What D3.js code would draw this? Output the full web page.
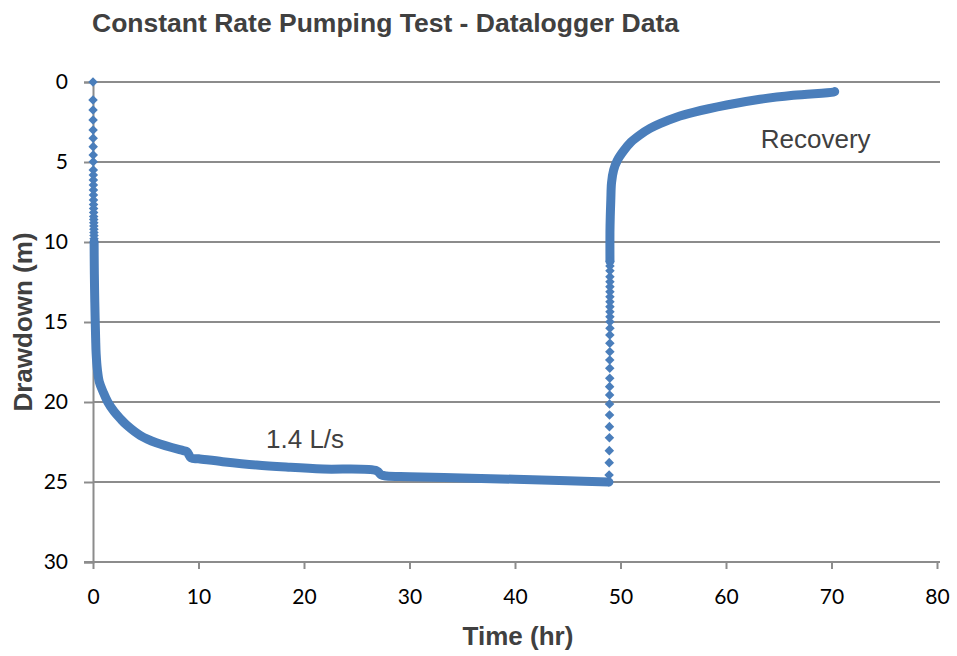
<!DOCTYPE html>
<html>
<head>
<meta charset="utf-8">
<script src="https://cdn.jsdelivr.net/npm/d3@7"></script>
<style>
  body { margin: 0; background: #fff; }
  svg text { fill: #404040; }
</style>
</head>
<body>
<svg id="chart" width="957" height="656"></svg>
<script>
// Data (time hr, drawdown m)
const startReadings = [
  [0, 0], [0.003, 1.13], [0.006, 1.75], [0.009, 2.38], [0.012, 3.0], [0.015, 3.52],
  [0.018, 4.04], [0.021, 4.56], [0.024, 4.98], [0.027, 5.5], [0.03, 5.81], [0.033, 6.13],
  [0.036, 6.44], [0.039, 6.75], [0.042, 7.06], [0.045, 7.38], [0.05, 7.65], [0.055, 7.9],
  [0.06, 8.15], [0.065, 8.4], [0.07, 8.6], [0.075, 8.8], [0.08, 9.0], [0.085, 9.2],
  [0.09, 9.4], [0.095, 9.6], [0.1, 9.8], [0.105, 10.0]
];
const pumpingCurve = [
  [0.105, 10.0], [0.12, 11.5], [0.15, 13.0], [0.2, 14.7], [0.25, 16.0], [0.3, 17.0],
  [0.42, 18.0], [0.6, 18.75], [0.98, 19.4], [1.4, 20.0], [2.0, 20.6], [2.6, 21.05],
  [3.2, 21.45], [4.5, 22.1], [6.0, 22.55], [8.55, 23.04], [8.9, 23.1], [9.3, 23.5],
  [10.0, 23.55], [12.3, 23.73], [15.5, 23.94], [18.7, 24.08], [21.8, 24.19], [26.9, 24.3],
  [27.3, 24.55], [27.8, 24.63], [30, 24.67], [35, 24.75], [40, 24.83], [45, 24.92],
  [48.9, 25.0]
];
const recoveryReadings = [
  [48.9, 25.0], [48.92, 24.56], [48.93, 23.79], [48.94, 23.04], [48.95, 22.23], [48.95, 21.54],
  [48.96, 20.81], [48.96, 20.13], [48.97, 19.56], [48.97, 19.04], [48.98, 18.52],
  [48.98, 17.89], [48.98, 17.38], [48.99, 16.86], [48.99, 16.33], [48.99, 15.81],
  [49.0, 15.39], [49.0, 14.98], [49.0, 14.67], [49.0, 14.36], [49.0, 14.04], [49.0, 13.73],
  [49.0, 13.42], [49.0, 13.11], [49.0, 12.79], [49.0, 12.48], [49.0, 12.17], [49.0, 11.8],
  [49.0, 11.5], [49.0, 11.2]
];
const recoveryCurve = [
  [49.0, 11.2], [49.0, 9.4], [49.03, 8.4], [49.08, 7.4], [49.15, 6.3], [49.35, 5.5],
  [49.7, 4.9], [50.3, 4.3], [51.0, 3.75], [51.85, 3.3], [52.8, 2.9], [53.74, 2.6],
  [55.3, 2.2], [56.9, 1.9], [60.07, 1.44], [63.22, 1.08], [66.38, 0.83], [70.17, 0.63],
  [70.3, 0.6]
];

const xTicks = [0, 10, 20, 30, 40, 50, 60, 70, 80];
const yTicks = [0, 5, 10, 15, 20, 25, 30];

const labels = [
  { text: '1.4 L/s', t: 20.1, d: 22.3 },
  { text: 'Recovery', t: 68.5, d: 3.55 }
];

// Layout
const plot = { left: 93, right: 937, top: 82, bottom: 562 };
const blue = '#4a7ebb';
const gridColor = '#8c8c8c';
const titleFont = '"Liberation Sans", Arial, sans-serif';
const tickFont = 'Lato, "Open Sans", sans-serif';

const svg = d3.select('#chart');

const x = d3.scaleLinear().domain([0, 80]).range([plot.left, plot.right]);
const y = d3.scaleLinear().domain([0, 30]).range([plot.top, plot.bottom]);

// gridlines + y axis
const yAxis = d3.axisLeft(y).tickValues(yTicks).tickSize(9).tickPadding(16);
const gy = svg.append('g')
    .attr('transform', `translate(${plot.left},0)`)
    .call(yAxis);
gy.select('.domain').attr('stroke', gridColor).attr('stroke-width', 2);
gy.selectAll('.tick line').attr('stroke', gridColor).attr('stroke-width', 2);
gy.selectAll('.tick text')
    .attr('font-family', tickFont)
    .attr('font-size', 21)
    .style('fill', '#000');

svg.append('g').selectAll('line.grid')
    .data(yTicks.filter(v => v !== 30))
    .join('line')
    .attr('class', 'grid')
    .attr('x1', plot.left).attr('x2', plot.right + 3)
    .attr('y1', d => y(d)).attr('y2', d => y(d))
    .attr('stroke', gridColor).attr('stroke-width', 2);

// x axis
const xAxis = d3.axisBottom(x).tickValues(xTicks).tickSize(7).tickPadding(20);
const gx = svg.append('g')
    .attr('transform', `translate(0,${plot.bottom})`)
    .call(xAxis);
gx.select('.domain').attr('stroke', gridColor).attr('stroke-width', 2)
    .attr('d', `M${plot.left - 9},0H${plot.right + 3}`);
gx.selectAll('.tick line').attr('stroke', gridColor).attr('stroke-width', 2);
gx.selectAll('.tick text')
    .attr('font-family', tickFont)
    .attr('font-size', 21)
    .style('fill', '#000');

// data
const line = d3.line()
    .x(d => x(d[0]))
    .y(d => y(d[1]))
    .curve(d3.curveCatmullRom.alpha(0.5));

[pumpingCurve, recoveryCurve].forEach(seg => {
  svg.append('path')
    .datum(seg)
    .attr('d', line)
    .attr('fill', 'none')
    .attr('stroke', blue)
    .attr('stroke-width', 9)
    .attr('stroke-linejoin', 'round')
    .attr('stroke-linecap', 'round');
});

const diamond = d3.symbol().type(d3.symbolDiamond2).size(58);
svg.append('g').selectAll('path')
    .data(startReadings.concat(recoveryReadings))
    .join('path')
    .attr('d', diamond)
    .attr('transform', d => `translate(${x(d[0])},${y(d[1])})`)
    .attr('fill', blue);

// annotations
svg.append('g').selectAll('text')
    .data(labels)
    .join('text')
    .attr('x', d => x(d.t))
    .attr('y', d => y(d.d))
    .attr('text-anchor', 'middle')
    .attr('dominant-baseline', 'central')
    .attr('font-family', titleFont)
    .attr('font-size', 26)
    .text(d => d.text);

// titles
svg.append('text')
    .attr('x', 92).attr('y', 32)
    .attr('font-family', titleFont)
    .attr('font-weight', 'bold')
    .attr('font-size', 26.5)
    .text('Constant Rate Pumping Test - Datalogger Data');

svg.append('text')
    .attr('x', (plot.left + plot.right) / 2 + 3).attr('y', 645)
    .attr('text-anchor', 'middle')
    .attr('font-family', titleFont)
    .attr('font-weight', 'bold')
    .attr('font-size', 26)
    .text('Time (hr)');

svg.append('text')
    .attr('transform', `translate(32,${(plot.top + plot.bottom) / 2}) rotate(-90)`)
    .attr('text-anchor', 'middle')
    .attr('font-family', titleFont)
    .attr('font-weight', 'bold')
    .attr('font-size', 26)
    .text('Drawdown (m)');
</script>
</body>
</html>
